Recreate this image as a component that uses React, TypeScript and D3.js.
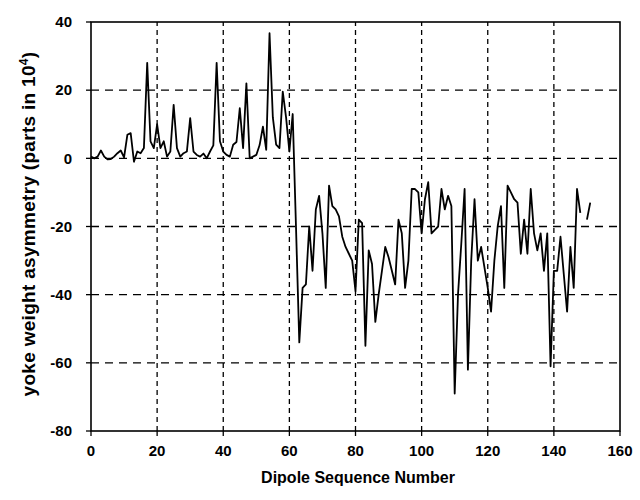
import React from "react";
import * as d3 from "d3";

// dipole sequence numbers and yoke weight asymmetry (parts in 10^4)
const dipoles: number[] = d3.range(0, 152);
const asymmetry: (number | null)[] = [
  0.5, 0, 0.5, 2.3, 0.5, -0.3, -0.2, 0.5, 1.5, 2.3,
  0.3, 6.9, 7.4, -1, 2, 1.5, 3, 28, 5, 3,
  10, 3, 5, 0.5, 2, 15.7, 3, 0.5, 1.5, 2,
  11.8, 2, 1, 0.5, 1.4, 0, 2, 3.8, 28, 5,
  2, 1, 0.5, 4, 4.8, 14.7, 3, 22, 0, 0.5,
  1, 3.9, 9.3, 2.5, 36.7, 12, 4, 3, 19.6, 12,
  2, 13, -20, -54, -38, -37, -20, -33, -15, -11,
  -22, -38, -8, -14, -15, -17, -23, -26, -28, -30,
  -39, -18, -19, -55, -27, -31, -48, -40, -33, -26,
  -29, -33, -37, -18, -22, -38, -30, -9, -9, -10,
  -22, -12, -7, -22, -21, -20, -9, -15, -11, -14,
  -69, -40, -25, -9, -62, -30, -12, -30, -26, -32,
  -38, -45, -30, -20, -14, -38, -8, -10, -12, -13,
  -28, -18, -28, -9, -22, -27, -22, -33, -22, -61,
  -33, -33, -23, -34, -45, -26, -38, -9, -16, null,
  -18, -13,
];
const xTicks: number[] = [0, 20, 40, 60, 80, 100, 120, 140, 160];
const yTicks: number[] = [40, 20, 0, -20, -40, -60, -80];

const width = 640;
const height = 500;
const margin = { top: 22, right: 20, bottom: 69, left: 91 };

export default function App() {
  const x = d3
    .scaleLinear()
    .domain([0, 160])
    .range([margin.left, width - margin.right]);
  const y = d3
    .scaleLinear()
    .domain([-80, 40])
    .range([height - margin.bottom, margin.top]);

  const pts = dipoles.map((d, i) => ({ d, v: asymmetry[i] }));
  const line = d3
    .line<{ d: number; v: number | null }>()
    .defined((p) => p.v !== null)
    .x((p) => x(p.d))
    .y((p) => y(p.v as number));

  const font = "Arial, 'Liberation Sans', Helvetica, sans-serif";
  const x0 = x(0);
  const x1 = x(160);
  const y0 = y(-80);
  const y1 = y(40);

  return (
    <div style={{ position: "fixed", left: 0, top: 0 }}>
      <svg width={width} height={height} style={{ display: "block", background: "#fff" }}>
        {/* grid */}
        {yTicks
          .filter((t) => t !== 40 && t !== -80)
          .map((t) => (
            <line key={"gy" + t} x1={x0} x2={x1} y1={y(t)} y2={y(t)}
              stroke="#000" strokeWidth={1.3} strokeDasharray="8,6" />
          ))}
        {xTicks
          .filter((t) => t !== 0 && t !== 160)
          .map((t) => (
            <line key={"gx" + t} x1={x(t)} x2={x(t)} y1={y0} y2={y1}
              stroke="#000" strokeWidth={1.3} strokeDasharray="5,4" />
          ))}

        {/* data */}
        <path d={line(pts) || ""} fill="none" stroke="#000" strokeWidth={1.8}
          strokeLinejoin="round" />

        {/* frame */}
        <rect x={x0} y={y1} width={x1 - x0} height={y0 - y1} fill="none"
          stroke="#000" strokeWidth={1.6} />

        {/* y axis ticks */}
        {yTicks.map((t) => (
          <g key={"ty" + t}>
            <line x1={x0 - 5} x2={x0} y1={y(t)} y2={y(t)} stroke="#000" strokeWidth={1.3} />
            <text x={x0 - 19} y={y(t)} dy="0.35em" textAnchor="end"
              fontFamily={font} fontWeight="bold" fontSize={15}>{t}</text>
          </g>
        ))}

        {/* x axis ticks */}
        {xTicks.map((t) => (
          <g key={"tx" + t}>
            <line x1={x(t)} x2={x(t)} y1={y0} y2={y0 + 5} stroke="#000" strokeWidth={1.3} />
            <text x={x(t)} y={y0 + 25} textAnchor="middle"
              fontFamily={font} fontWeight="bold" fontSize={15}>{t}</text>
          </g>
        ))}

        {/* axis titles */}
        <text x={358} y={483} textAnchor="middle" fontFamily={font}
          fontWeight="bold" fontSize={16}>Dipole Sequence Number</text>
        <text transform={`translate(35,224) rotate(-90)`} textAnchor="middle"
          fontFamily={font} fontWeight="bold" fontSize={19} letterSpacing={0.3}>
          yoke weight asymmetry (parts in 10
          <tspan dy="-7" fontSize={12}>4</tspan>
          <tspan dy="7">)</tspan>
        </text>
      </svg>
    </div>
  );
}
